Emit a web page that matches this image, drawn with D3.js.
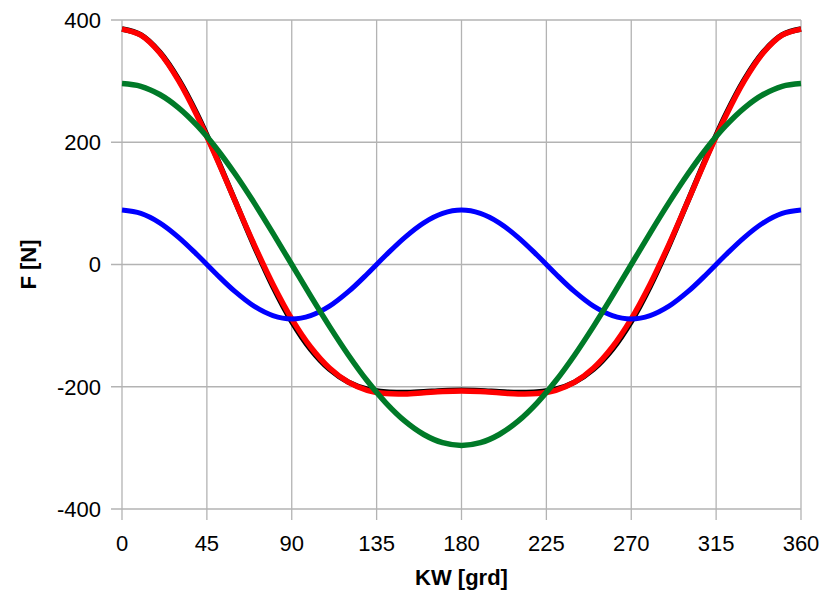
<!DOCTYPE html>
<html><head><meta charset="utf-8">
<script src="https://cdn.jsdelivr.net/npm/d3@7"></script>
<style>body{margin:0;background:#fff}svg{display:block}text{font-family:"Liberation Sans",Arial,sans-serif}</style>
</head><body><svg id="c" width="826" height="600"></svg>
<script>
// crank angle samples (degrees)
const angles = d3.range(0, 361, 10);
// green: first-order force
const firstOrder = [296,291.5,278.1,256.3,226.7,190.3,148,101.2,51.4,0,-51.4,-101.2,-148,-190.3,-226.7,-256.3,-278.1,-291.5,-296,
  -291.5,-278.1,-256.3,-226.7,-190.3,-148,-101.2,-51.4,0,51.4,101.2,148,190.3,226.7,256.3,278.1,291.5,296];
// blue: second-order force
const secondOrder = [89,83.6,68.2,44.5,15.5,-15.5,-44.5,-68.2,-83.6,-89,-83.6,-68.2,-44.5,-15.5,15.5,44.5,68.2,83.6,89,
  83.6,68.2,44.5,15.5,-15.5,-44.5,-68.2,-83.6,-89,-83.6,-68.2,-44.5,-15.5,15.5,44.5,68.2,83.6,89];
// red: sum of first and second order
const sumOrders = [385,375.1,346.3,300.8,242.2,174.8,103.5,33.0,-32.2,-89,-135.0,-169.4,-192.5,-205.8,-211.2,-211.8,-209.9,-207.9,-207,
  -207.9,-209.9,-211.8,-211.2,-205.8,-192.5,-169.4,-135.0,-89,-32.2,33.0,103.5,174.8,242.2,300.8,346.3,375.1,385];
// black: exact force
const exactForce = [385.3,375.6,347.5,302.8,244.6,176.5,103.6,31.0,-35.9,-93.3,-138.7,-171.4,-192.4,-204.0,-208.7,-209.5,-208.1,-206.4,-205.6,
  -206.4,-208.1,-209.5,-208.7,-204.0,-192.4,-171.4,-138.7,-93.3,-35.9,31.0,103.6,176.5,244.6,302.8,347.5,375.6,385.3];
const xTicks = [0,45,90,135,180,225,270,315,360];
const yTicks = [-400,-200,0,200,400];

const svg = d3.select("#c");
const L=122, R=801, T=20, B=509;
const x = d3.scaleLinear().domain([0,360]).range([L,R]);
const y = d3.scaleLinear().domain([-400,400]).range([B,T]);
const grid = "#b3b3b3";

// grid
svg.append("g").selectAll("line").data(xTicks).join("line")
  .attr("x1",d=>x(d)).attr("x2",d=>x(d)).attr("y1",T).attr("y2",B+11)
  .attr("stroke",grid).attr("stroke-width",1.3);
svg.append("g").selectAll("line").data(yTicks).join("line")
  .attr("x1",L-11).attr("x2",R).attr("y1",d=>y(d)).attr("y2",d=>y(d))
  .attr("stroke",grid).attr("stroke-width",1.3);

// tick labels
svg.append("g").selectAll("text").data(yTicks).join("text")
  .attr("x",L-21).attr("y",d=>y(d)).attr("dy","0.36em")
  .attr("text-anchor","end").attr("font-size",22).attr("fill","#000").text(d=>d);
svg.append("g").selectAll("text").data(xTicks).join("text")
  .attr("x",d=>x(d)).attr("y",B+42)
  .attr("text-anchor","middle").attr("font-size",22).attr("fill","#000").text(d=>d);

// axis titles
svg.append("text").attr("x",(L+R)/2).attr("y",585).attr("text-anchor","middle")
  .attr("font-size",22).attr("font-weight","bold").text("KW [grd]");
svg.append("text").attr("transform",`translate(36,${y(0)}) rotate(-90)`).attr("text-anchor","middle")
  .attr("font-size",22).attr("font-weight","bold").text("F [N]");

const line = d3.line().x((d,i)=>x(angles[i])).y(d=>y(d)).curve(d3.curveCatmullRom.alpha(0.5));
const series = [
  {v:exactForce, c:"#000000", w:5.5},
  {v:sumOrders, c:"#ff0000", w:5.5},
  {v:secondOrder, c:"#0000ff", w:5},
  {v:firstOrder, c:"#007a28", w:5.5}
];
svg.append("g").selectAll("path").data(series).join("path")
  .attr("d",d=>line(d.v)).attr("fill","none").attr("stroke",d=>d.c)
  .attr("stroke-width",d=>d.w).attr("stroke-linejoin","round");
</script></body></html>
